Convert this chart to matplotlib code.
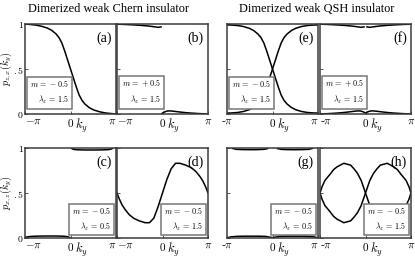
import numpy as np
import matplotlib
matplotlib.use("Agg")
import matplotlib.pyplot as plt
from matplotlib.transforms import blended_transform_factory

plt.rcParams['mathtext.fontset'] = 'cm'
plt.rcParams['font.family'] = ['Liberation Serif', 'DejaVu Serif']

PI = np.pi

# ---------------- data ----------------
# (a) weak Chern, m=-0.5, lz=1.5
ky_a = [-3.14, -2.8, -2.4, -2.0, -1.6, -1.3, -1.0, -0.8, -0.6, -0.4, -0.2, 0.0,
        0.2, 0.4, 0.6, 0.8, 1.0, 1.3, 1.6, 2.0, 2.4, 2.8, 3.14]
p_a = [1.0, 0.995, 0.988, 0.975, 0.955, 0.93, 0.89, 0.85, 0.79, 0.70, 0.60, 0.50,
       0.40, 0.30, 0.21, 0.15, 0.11, 0.07, 0.045, 0.025, 0.012, 0.005, 0.0]

# (b) weak Chern, m=+0.5
ky_b_up = [-3.14, -2.6, -2.0, -1.5, -1.0, -0.6, -0.3, -0.1]
p_b_up = [0.998, 0.995, 0.99, 0.985, 0.978, 0.97, 0.963, 0.968]
ky_b_lo = [-0.05, 0.1, 0.3, 0.5, 0.8, 1.2, 1.6, 2.0, 2.5, 3.14]
p_b_lo = [0.005, 0.02, 0.032, 0.035, 0.03, 0.022, 0.015, 0.01, 0.005, 0.0]

# (e) weak QSH, m=-0.5 : two branches
ky_e = ky_a
p_e1 = [0.99, 0.988, 0.983, 0.972, 0.952, 0.927, 0.888, 0.85, 0.79, 0.70, 0.60, 0.50,
        0.40, 0.30, 0.21, 0.15, 0.112, 0.073, 0.048, 0.028, 0.017, 0.012, 0.01]
p_e2 = [0.01, 0.012, 0.017, 0.028, 0.048, 0.073, 0.112, 0.15, 0.21, 0.30, 0.40, 0.50,
        0.60, 0.70, 0.79, 0.85, 0.888, 0.927, 0.952, 0.972, 0.983, 0.988, 0.99]

# (f) weak QSH, m=+0.5
ky_f_upL = [-3.14, -2.6, -2.0, -1.5, -1.0, -0.6, -0.3, -0.1]
p_f_upL = [0.998, 0.995, 0.99, 0.985, 0.978, 0.97, 0.963, 0.968]
ky_f_upR = [0.1, 0.3, 0.6, 1.0, 1.5, 2.0, 2.6, 3.14]
p_f_upR = [0.968, 0.963, 0.97, 0.978, 0.985, 0.99, 0.995, 0.998]
ky_f_lo = [-3.14, -2.5, -2.0, -1.6, -1.2, -0.8, -0.5, -0.3, -0.1, 0.0,
           0.1, 0.3, 0.5, 0.8, 1.2, 1.6, 2.0, 2.5, 3.14]
p_f_lo = [0.0, 0.005, 0.01, 0.015, 0.022, 0.03, 0.035, 0.032, 0.02, 0.008,
          0.02, 0.032, 0.035, 0.03, 0.022, 0.015, 0.01, 0.005, 0.0]

# (c) weak Chern, m=-0.5, lz=0.5
ky_c_lo = [-3.14, -3.0, -2.7, -2.2, -1.6, -1.0, -0.5, -0.2, -0.05]
p_c_lo = [0.0, 0.012, 0.018, 0.021, 0.022, 0.022, 0.02, 0.015, 0.005]
ky_c_up = [0.08, 0.2, 0.5, 1.0, 1.6, 2.2, 2.6, 2.8, 2.9]
p_c_up = [0.995, 0.985, 0.98, 0.978, 0.978, 0.979, 0.982, 0.988, 0.995]

# (d) weak Chern, m=-0.5, lz=1.5
ky_d = [-3.14, -3.0, -2.8, -2.6, -2.3, -2.0, -1.6, -1.2, -0.9, -0.6, -0.3, 0.0,
        0.3, 0.6, 0.9, 1.2, 1.6, 2.0, 2.3, 2.6, 2.8, 3.0, 3.14]
p_d = [0.50, 0.44, 0.37, 0.32, 0.26, 0.22, 0.19, 0.17, 0.17, 0.22, 0.35, 0.50,
       0.65, 0.77, 0.83, 0.83, 0.81, 0.78, 0.74, 0.68, 0.63, 0.56, 0.50]

# (g) weak QSH, m=-0.5, lz=0.5
ky_g_upL = [-2.75, -2.5, -2.0, -1.5, -1.0, -0.6, -0.35]
p_g_upL = [0.995, 0.985, 0.982, 0.981, 0.982, 0.985, 0.993]
ky_g_upR = [0.35, 0.6, 1.0, 1.5, 2.0, 2.5, 2.75]
p_g_upR = [0.993, 0.985, 0.982, 0.981, 0.982, 0.985, 0.995]
ky_g_lo = [-3.14, -2.9, -2.5, -2.0, -1.5, -1.0, -0.5, -0.2, 0.0,
           0.2, 0.5, 1.0, 1.5, 2.0, 2.5, 2.9, 3.14]
p_g_lo = [0.0, 0.012, 0.018, 0.02, 0.02, 0.02, 0.018, 0.01, 0.004,
          0.01, 0.018, 0.02, 0.02, 0.02, 0.018, 0.012, 0.0]

# (h) weak QSH, m=-0.5, lz=1.5
ky_h = [-3.14, -3.0, -2.8, -2.44, -2.2, -1.97, -1.5, -1.03, -0.8, -0.56, -0.3, -0.15, 0.0,
        0.15, 0.3, 0.56, 0.8, 1.03, 1.5, 1.97, 2.2, 2.44, 2.8, 3.0, 3.14]
p_h1 = [0.5, 0.57, 0.64, 0.71, 0.76, 0.79, 0.83, 0.81, 0.77, 0.72, 0.64, 0.57, 0.5,
        0.43, 0.36, 0.28, 0.23, 0.19, 0.17, 0.21, 0.24, 0.29, 0.36, 0.43, 0.5]
p_h2 = [0.5, 0.43, 0.36, 0.29, 0.24, 0.21, 0.17, 0.19, 0.23, 0.28, 0.36, 0.43, 0.5,
        0.57, 0.64, 0.72, 0.77, 0.81, 0.83, 0.79, 0.76, 0.71, 0.64, 0.57, 0.5]

titles = ["Dimerized weak Chern insulator", "Dimerized weak QSH insulator"]
labels = ["(a)", "(b)", "(e)", "(f)", "(c)", "(d)", "(g)", "(h)"]
params = [("-0.5", "1.5"), ("+0.5", "1.5"), ("-0.5", "1.5"), ("+0.5", "1.5"),
          ("-0.5", "0.5"), ("-0.5", "1.5"), ("-0.5", "0.5"), ("-0.5", "1.5")]
ylabels = [r"$p_{z,x}(k_y)$", r"$p_{x,z}(k_y)$"]

curves = [
    [(ky_a, p_a)],
    [(ky_b_up, p_b_up), (ky_b_lo, p_b_lo)],
    [(ky_e, p_e1), (ky_e, p_e2)],
    [(ky_f_upL, p_f_upL), (ky_f_upR, p_f_upR), (ky_f_lo, p_f_lo)],
    [(ky_c_lo, p_c_lo), (ky_c_up, p_c_up)],
    [(ky_d, p_d)],
    [(ky_g_upL, p_g_upL), (ky_g_upR, p_g_upR), (ky_g_lo, p_g_lo)],
    [(ky_h, p_h1), (ky_h, p_h2)],
]

# ---------------- figure ----------------
W, H = 415, 262
fig = plt.figure(figsize=(W / 100, H / 100), dpi=100)

lefts = [25, 117, 227, 320]
tops = [24, 148]
pw, ph = 91, 90

spine_col = "#3c3c3c"
axes = []
for r in range(2):
    for c in range(4):
        i = r * 4 + c
        x0 = lefts[c] / W
        y0 = 1 - (tops[r] + ph) / H
        ax = fig.add_axes([x0, y0, pw / W, ph / H])
        axes.append(ax)
        for k, p in curves[i]:
            ax.plot(k, p, color="black", lw=1.1, zorder=2)
        ax.set_xlim(-PI, PI)
        ax.set_ylim(0, 1)
        for s in ax.spines.values():
            s.set_color(spine_col)
            s.set_linewidth(1.1)
        ax.tick_params(direction="in", length=2, width=0.6, color=spine_col,
                       pad=2.5, labelsize=8)
        ax.tick_params(axis="y", labelsize=7, pad=1.0)
        ax.set_xticks([-PI, 0, PI])
        minus = r"$-\pi$" if c < 2 else r"-$\pi$"
        ax.set_xticklabels([minus, r"$0$", r"$\pi$"])
        tl = ax.get_xticklabels()
        tl[0].set_horizontalalignment("left")
        tl[2].set_horizontalalignment("right")
        if c == 2:
            tl[0].set_horizontalalignment("center")
        if c in (1, 3):
            tl[2].set_horizontalalignment("center")
        ax.set_yticks([0, 0.5, 1])
        if c == 0:
            ax.set_yticklabels([r"$0$", r"$.5$", r"$1$"])
            ax.set_ylabel(ylabels[r], fontsize=7.3)
            ax.yaxis.set_label_coords(-0.122, 0.5)
        else:
            ax.set_yticklabels([])
        tr = blended_transform_factory(ax.transData, ax.transAxes)
        ax.text(0.33, -0.035, r"$k_y$", transform=tr, ha="left", va="top",
                fontsize=9)
        ax.text(0.955, 0.92, labels[i], transform=ax.transAxes, ha="right",
                va="top", fontsize=10)
        m, lz = params[i]
        txt = r"$m\,=\,%s$" % m + "\n" + r"$\lambda_z\,=\,%s$" % lz
        kw = dict(transform=ax.transAxes, va="bottom", fontsize=5.8,
                  multialignment="right", linespacing=1.45, zorder=5,
                  bbox=dict(boxstyle="square,pad=0.35", fc="white",
                            ec="#777777", lw=1.1))
        if r == 0:
            ax.text(0.055, 0.09, txt, ha="left", **kw)
        else:
            ax.text(0.945, 0.06, txt, ha="right", **kw)

fig.text(108 / W, 1 - 9 / H, titles[0], ha="center", va="center", fontsize=8.8)
fig.text(317 / W, 1 - 9 / H, titles[1], ha="center", va="center", fontsize=8.8)

fig.savefig("out.png", dpi=100)
